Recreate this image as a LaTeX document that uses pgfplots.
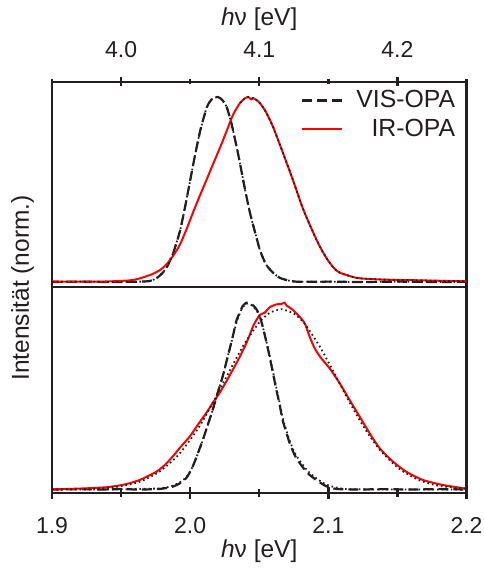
\documentclass[border=0pt]{standalone}
\usepackage{fontspec}
\setmainfont{Liberation Sans}
\usepackage{pgfplots}
\usepackage{pgfplotstable}
\pgfplotsset{compat=1.18}
\definecolor{ink}{RGB}{35,31,32}
\definecolor{redline}{RGB}{255,0,0}

% ---- upper panel (top energy scale) ----
\pgfplotstableread{
x y
3.9500 0.000
3.9705 0.002
3.9921 0.000
4.0138 0.002
4.0211 0.006
4.0259 0.022
4.0295 0.045
4.0331 0.080
4.0377 0.157
4.0428 0.281
4.0476 0.455
4.0524 0.643
4.0572 0.815
4.0621 0.945
4.0659 0.990
4.0700 1.000
4.0731 0.985
4.0765 0.945
4.0801 0.850
4.0837 0.728
4.0861 0.640
4.0897 0.500
4.0934 0.370
4.0982 0.235
4.1006 0.170
4.1049 0.095
4.1100 0.050
4.1150 0.022
4.1223 0.006
4.1295 0.001
4.1512 0.002
4.1729 0.000
4.2018 0.002
4.2235 0.000
4.2500 0.001
}\visTop

\pgfplotstableread{
x y
3.9500 0.003
3.9705 0.002
3.9900 0.003
4.0088 0.011
4.0211 0.038
4.0283 0.065
4.0334 0.100
4.0384 0.150
4.0428 0.205
4.0476 0.290
4.0524 0.382
4.0572 0.470
4.0621 0.557
4.0666 0.638
4.0717 0.728
4.0765 0.818
4.0811 0.905
4.0861 0.968
4.0897 0.993
4.0921 1.000
4.0941 0.987
4.0955 0.994
4.0977 0.985
4.1006 0.966
4.1049 0.918
4.1100 0.838
4.1172 0.697
4.1244 0.551
4.1317 0.395
4.1389 0.270
4.1440 0.190
4.1490 0.125
4.1541 0.075
4.1584 0.050
4.1707 0.022
4.1837 0.015
4.1946 0.012
4.2163 0.009
4.2343 0.006
4.2500 0.004
}\irTop

\pgfplotstableread{
x y
4.0861 0.968
4.0897 0.993
4.0921 1.000
4.0955 0.994
4.0977 0.985
4.1006 0.966
4.1049 0.918
4.1100 0.838
4.1172 0.697
4.1244 0.551
4.1317 0.395
4.1389 0.270
4.1440 0.190
4.1490 0.125
4.1541 0.075
4.1584 0.050
4.1707 0.022
4.1837 0.015
4.1946 0.012
4.2163 0.009
4.2343 0.006
4.2500 0.004
}\irTopFit

% ---- lower panel (bottom energy scale) ----
\pgfplotstableread{
x y
1.9000 0.000
1.9200 0.002
1.9345 0.000
1.9490 0.002
1.9635 0.000
1.9779 0.003
1.9873 0.015
1.9946 0.042
1.9982 0.072
2.0018 0.122
2.0054 0.190
2.0091 0.265
2.0127 0.345
2.0163 0.426
2.0199 0.517
2.0235 0.604
2.0271 0.709
2.0308 0.818
2.0336 0.907
2.0358 0.945
2.0380 0.982
2.0407 1.000
2.0431 0.996
2.0452 0.988
2.0479 0.966
2.0503 0.929
2.0525 0.872
2.0550 0.795
2.0575 0.711
2.0599 0.624
2.0624 0.533
2.0648 0.452
2.0669 0.372
2.0695 0.308
2.0720 0.249
2.0756 0.185
2.0792 0.142
2.0850 0.088
2.0913 0.051
2.0981 0.019
2.1058 0.003
2.1227 0.000
2.1393 0.002
2.1600 0.000
2.1800 0.002
2.2000 0.000
}\visBot

\pgfplotstableread{
x y
1.9000 0.000
1.9490 0.001
1.9779 0.006
1.9873 0.020
1.9946 0.048
1.9982 0.076
2.0018 0.122
2.0054 0.188
2.0091 0.262
2.0127 0.343
2.0163 0.425
2.0199 0.515
2.0235 0.604
2.0271 0.709
2.0308 0.816
2.0336 0.895
2.0358 0.940
2.0380 0.975
2.0407 0.995
2.0431 0.993
2.0452 0.982
2.0479 0.960
2.0503 0.925
2.0525 0.872
2.0550 0.798
2.0575 0.716
2.0599 0.632
2.0624 0.543
2.0648 0.462
2.0669 0.385
2.0695 0.320
2.0720 0.262
2.0756 0.198
2.0792 0.155
2.0850 0.100
2.0913 0.060
2.0981 0.028
2.1058 0.010
2.1150 0.002
2.1400 0.000
2.2000 0.000
}\visBotFit

\pgfplotstableread{
x y
1.9000 0.001
1.9200 0.005
1.9394 0.012
1.9526 0.027
1.9635 0.051
1.9755 0.095
1.9816 0.131
1.9873 0.176
1.9931 0.228
1.9996 0.283
2.0054 0.345
2.0117 0.410
2.0163 0.463
2.0213 0.517
2.0261 0.578
2.0308 0.640
2.0358 0.709
2.0407 0.784
2.0431 0.827
2.0460 0.881
2.0503 0.934
2.0539 0.946
2.0575 0.975
2.0624 0.991
2.0660 0.993
2.0684 1.000
2.0696 0.986
2.0744 0.961
2.0792 0.925
2.0829 0.890
2.0865 0.818
2.0901 0.756
2.0949 0.702
2.1009 0.649
2.1082 0.569
2.1154 0.479
2.1227 0.390
2.1299 0.301
2.1371 0.221
2.1468 0.149
2.1564 0.095
2.1685 0.051
2.1829 0.024
2.1986 0.006
2.2000 0.005
}\irBot

\pgfplotstableread{
x y
1.9000 0.0003
1.9200 0.0017
1.9345 0.0056
1.9490 0.0163
1.9635 0.042
1.9779 0.096
1.9924 0.192
2.0069 0.340
2.0177 0.482
2.0286 0.636
2.0394 0.782
2.0503 0.897
2.0575 0.945
2.0660 0.965
2.0756 0.939
2.0829 0.887
2.0937 0.767
2.1046 0.619
2.1154 0.466
2.1263 0.327
2.1371 0.214
2.1516 0.109
2.1661 0.049
2.1805 0.019
2.2000 0.005
}\irBotFit

\begin{document}
\begin{tikzpicture}
\useasboundingbox (0,0) rectangle (241.5pt,284pt);
\pgfplotsset{
  every non boxed x axis/.append style={x axis line style={-}},
  every non boxed y axis/.append style={y axis line style={-}},
  every inner x axis line/.append style={-},
  every outer x axis line/.append style={-},
  panel/.style={scale only axis, width=207.25pt, xtick=\empty, ytick=\empty,
    axis y line=box,
    axis line style={ink, line width=1.2pt}, clip=true},
  visline/.style={ink, line width=1.1pt, dash pattern=on 5pt off 2.5pt, smooth, tension=0.4},
  irline/.style={redline, line width=1.0pt, smooth, tension=0.4},
  fitline/.style={ink, line width=0.9pt, dash pattern=on 0.8pt off 1.5pt, smooth, tension=0.4},
  scaleax/.style={scale only axis, width=207.25pt, height=10pt, ymin=0, ymax=1,
    axis y line=none, axis line style={-, ink, line width=1.2pt},
    tick align=outside, tick style={ink, line width=1.2pt},
    /pgf/number format/assume math mode=true,
    ticklabel style={font=\fontsize{11.5}{13}\selectfont, text=ink}},
}
% upper panel
\begin{axis}[panel, at={(26pt,140.5pt)}, anchor=south west, height=102.5pt,
  axis x line=bottom, x axis line style={-},
  xmin=3.95, xmax=4.25, ymin=-0.027, ymax=1.0811,
  legend cell align=right,
  legend image code/.code={\draw[#1] (0pt,0pt) -- (20pt,0pt); \path (24.5pt,0pt);},
  legend style={draw=none, fill=none, at={(1,1)}, anchor=north east,
    xshift=-0.5pt, yshift=0pt, font=\fontsize{12.4}{14.5}\selectfont, text=ink}]
\addplot[visline] table {\visTop};
\addlegendentry{VIS-OPA}
\addplot[irline] table {\irTop};
\addlegendentry{IR-OPA}
\addplot[fitline, forget plot] table {\visTop};
\addplot[fitline, forget plot] table {\irTopFit};
\end{axis}
% lower panel
\begin{axis}[panel, at={(26pt,37.5pt)}, anchor=south west, height=103pt,
  axis x line=none,
  xmin=1.9, xmax=2.2, ymin=-0.0187, ymax=1.084]
\addplot[visline] table {\visBot};
\addplot[irline] table {\irBot};
\addplot[fitline] table {\visBotFit};
\addplot[fitline] table {\irBotFit};
\end{axis}
% bottom energy scale
\begin{axis}[scaleax, at={(26pt,37.5pt)}, anchor=south west,
  xmin=1.9, xmax=2.2, axis x line=bottom, x axis line style={-},
  xtick={1.9,2.0,2.1,2.2}, xticklabels={1.9,2.0,2.1,2.2},
  minor xtick={1.95,2.05,2.15},
  major tick length=6pt, minor tick length=4.2pt,
  xticklabel style={yshift=-5.5pt},
  xlabel style={yshift=3.75pt, font=\fontsize{12.25}{14}\selectfont, text=ink},
  xlabel={\textit{h}ν [eV]}]
\addplot[draw=none] coordinates {(2.0,0.5)};
\end{axis}
% top energy scale
\begin{axis}[scaleax, at={(26pt,243pt)}, anchor=north west,
  xmin=3.95, xmax=4.25, axis x line=top, x axis line style={-},
  xtick={4.0,4.1,4.2}, xticklabels={4.0,4.1,4.2},
  minor xtick={3.95,4.05,4.15,4.25},
  major tick length=4.5pt, minor tick length=2.5pt,
  xticklabel style={yshift=6.5pt},
  xlabel style={yshift=-1.5pt, font=\fontsize{12.25}{14}\selectfont, text=ink},
  xlabel={\textit{h}ν [eV]}]
\addplot[draw=none] coordinates {(4.1,0.5)};
\end{axis}
\node[rotate=90, font=\fontsize{12.25}{14}\selectfont, text=ink] at (11.25pt,140pt) {Intensität (norm.)};
\end{tikzpicture}
\end{document}
